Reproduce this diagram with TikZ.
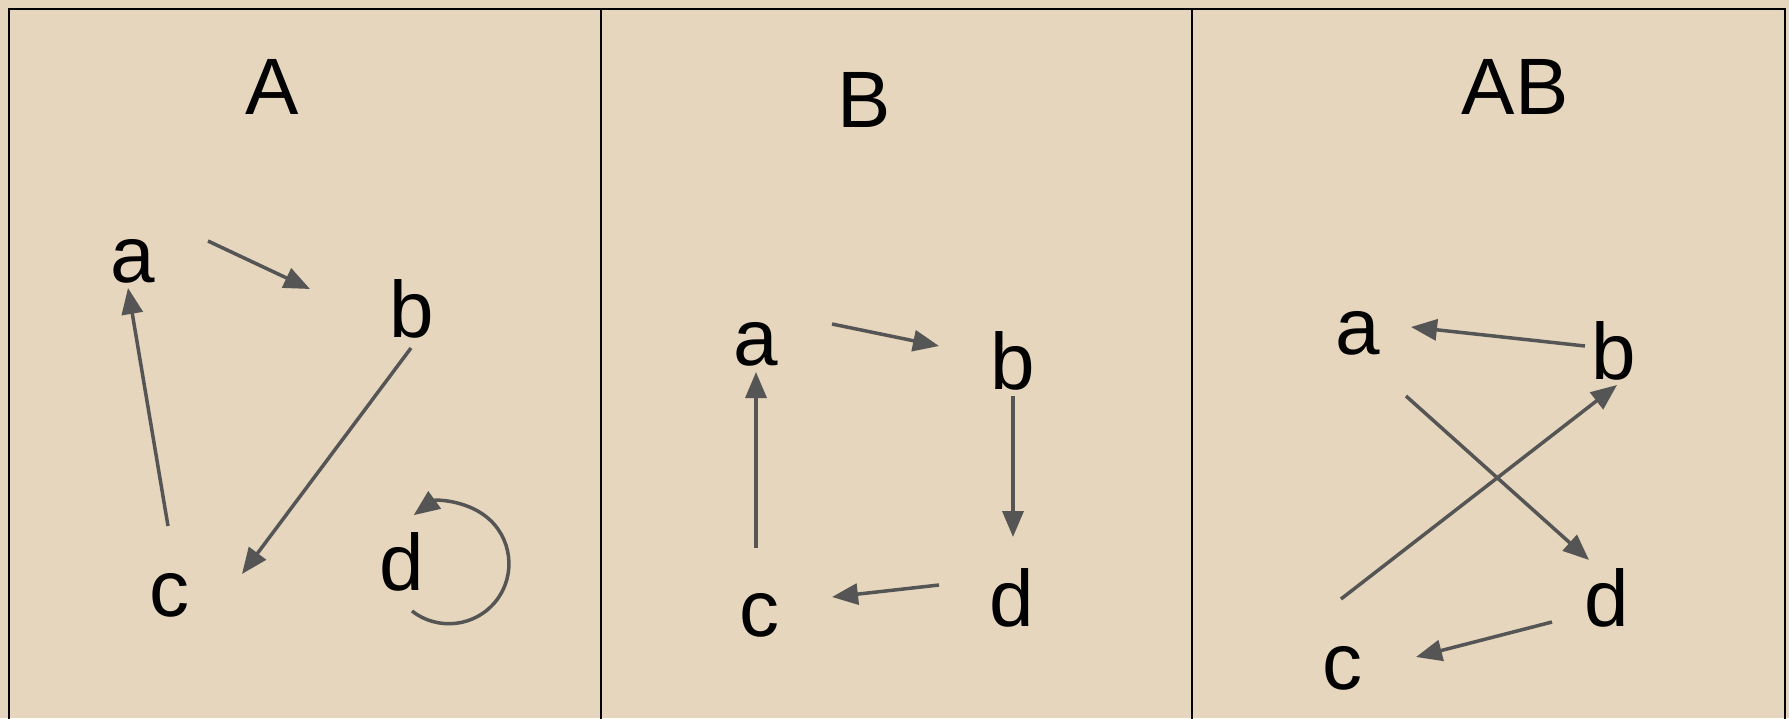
\documentclass[tikz,border=0pt]{standalone}
\usepackage{fontspec}
\setmainfont{Liberation Sans}
\usetikzlibrary{arrows.meta}
\definecolor{paper}{RGB}{229,214,189}
\definecolor{ink}{RGB}{85,85,85}
\tikzset{
  lbl/.style={anchor=base, inner sep=0pt, font=\fontsize{80}{96}\selectfont},
  title/.style={anchor=base, inner sep=0pt, font=\fontsize{80}{96}\selectfont},
  edge/.style={draw=ink, line width=3.5pt, -{Triangle[length=26pt,width=21pt]}},
  frame/.style={draw=black, line width=2pt}
}
\begin{document}
\begin{tikzpicture}[x=1pt, y=-1pt]
  \fill[paper] (0,0) rectangle (1789,718);
  \useasboundingbox (0,0) rectangle (1789,718);
  % outer frame and panel dividers
  \draw[frame] (9,720) -- (9,9) -- (1785,9) -- (1785,720);
  \draw[frame] (601,9) -- (601,720);
  \draw[frame] (1192,9) -- (1192,720);

  % panel A
  \node[title] (tA) at (272,114) {A};
  \node[lbl] (Aa) at (133,282) {a};
  \node[lbl] (Ab) at (412,337) {b};
  \node[lbl] (Ac) at (169,616) {c};
  \node[lbl] (Ad) at (402,590) {d};
  \coordinate (Aab1) at (208,241);  \coordinate (Aab2) at (310,289);
  \coordinate (Abc1) at (411,348);  \coordinate (Abc2) at (242,574);
  \coordinate (Aca1) at (168,526);  \coordinate (Aca2) at (128,288);
  \coordinate (Add1) at (412,611);
  \draw[edge] (Aab1) -- (Aab2);
  \draw[edge] (Abc1) -- (Abc2);
  \draw[edge] (Aca1) -- (Aca2);
  \draw[edge] (Add1) arc[start angle=128, end angle=-126, radius=60];

  % panel B
  \node[title] (tB) at (864,127) {B};
  \node[lbl] (Ba) at (756,365) {a};
  \node[lbl] (Bb) at (1013,389) {b};
  \node[lbl] (Bc) at (759,636) {c};
  \node[lbl] (Bd) at (1012,626) {d};
  \coordinate (Bab1) at (832,324);  \coordinate (Bab2) at (939,346);
  \coordinate (Bbd1) at (1013,396); \coordinate (Bbd2) at (1013,537);
  \coordinate (Bdc1) at (939,585);  \coordinate (Bdc2) at (832,597);
  \coordinate (Bca1) at (756,548);  \coordinate (Bca2) at (756,372);
  \draw[edge] (Bab1) -- (Bab2);
  \draw[edge] (Bbd1) -- (Bbd2);
  \draw[edge] (Bdc1) -- (Bdc2);
  \draw[edge] (Bca1) -- (Bca2);

  % panel AB
  \node[title] (tAB) at (1515,114) {AB};
  \node[lbl] (Ca) at (1358,354) {a};
  \node[lbl] (Cb) at (1614,379) {b};
  \node[lbl] (Cc) at (1342,689) {c};
  \node[lbl] (Cd) at (1607,626) {d};
  \coordinate (Cba1) at (1585,346); \coordinate (Cba2) at (1411,327);
  \coordinate (Cad1) at (1406,396); \coordinate (Cad2) at (1589,560);
  \coordinate (Ccb1) at (1341,599); \coordinate (Ccb2) at (1617,385);
  \coordinate (Cdc1) at (1552,622); \coordinate (Cdc2) at (1416,657);
  \draw[edge] (Cba1) -- (Cba2);
  \draw[edge] (Cad1) -- (Cad2);
  \draw[edge] (Ccb1) -- (Ccb2);
  \draw[edge] (Cdc1) -- (Cdc2);
\end{tikzpicture}
\end{document}
